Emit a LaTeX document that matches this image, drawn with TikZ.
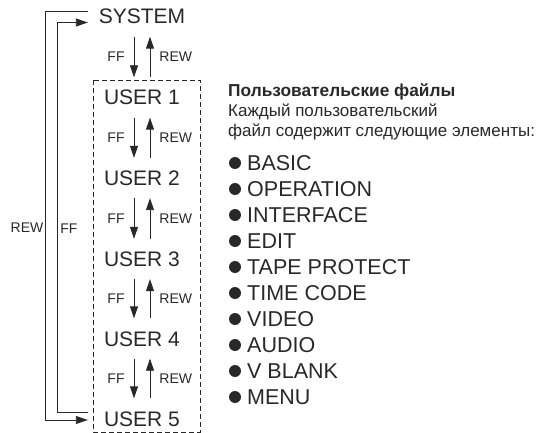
\documentclass[tikz,border=0pt]{standalone}
\usepackage{fontspec}
\setmainfont{Liberation Sans}
\usetikzlibrary{arrows.meta,positioning}
\definecolor{inkgray}{RGB}{40,40,40}

\begin{document}
\begin{tikzpicture}[
x=1pt,y=-1pt,
item/.style={
font=\fontsize{21}{21}\selectfont,
color=inkgray,
text height=15pt,
text depth=0pt,
minimum width=108pt,
inner xsep=0pt,
inner ysep=12.5pt
},
lbl/.style={
font=\fontsize{14}{14}\selectfont,
color=inkgray,
inner sep=2pt
},
edge/.style={
-{Triangle[length=12pt,width=8pt]},
line width=0.9pt,
color=inkgray
},
ubox/.style={
dash pattern=on 5pt off 3pt,
line width=0.8pt,
color=inkgray
},
head/.style={
font=\fontsize{17.3}{17.3}\selectfont\bfseries,
color=inkgray,
anchor=base west,
inner sep=0pt
},
note/.style={
font=\fontsize{17}{17}\selectfont,
color=inkgray,
anchor=base west,
inner sep=0pt
},
entry/.style={
font=\fontsize{21.5}{21.5}\selectfont,
color=inkgray,
anchor=west,
text height=15pt,
text depth=0pt,
inner sep=0pt
},
dot/.style={
circle,
fill=inkgray,
minimum size=12pt,
inner sep=0pt
}
]
\useasboundingbox (0,0) rectangle (544,433);

% user files frame
\draw[ubox] (93,80) rectangle (200,432);

\node[item] (sys) at (142,16.5) {SYSTEM};
\foreach \i/\yy in {1/97.5,2/178,3/259,4/338.5,5/418.5}
\node[item] (u\i) at (142,\yy) {USER \i};

% FF down, REW up between neighbours
\draw[edge]
([xshift=-8pt]sys.south) -- node[lbl,left=7pt]{FF} ([xshift=-8pt]u1.north);
\draw[edge]
([xshift=8pt]u1.north) -- node[lbl,right=7pt]{REW} ([xshift=8pt]sys.south);
\foreach \a/\b in {1/2,2/3,3/4,4/5} {
\draw[edge]
([xshift=-8pt]u\a.south) -- node[lbl,left=7pt]{FF} ([xshift=-8pt]u\b.north);
\draw[edge]
([xshift=8pt]u\b.north) -- node[lbl,right=7pt]{REW} ([xshift=8pt]u\a.south);
}

% wrap-around between SYSTEM and USER 5
\draw[edge]
([yshift=5pt]sys.west) -- ++(-42,0)
-- node[lbl,pos=0.53,left]{REW} ([xshift=-42pt,yshift=-1.5pt]u5.west)
-- ([yshift=-1.5pt]u5.west);
\draw[edge]
([yshift=6.5pt]u5.west) -- ++(-30,0)
-- node[lbl,pos=0.47,right]{FF} ([xshift=-30pt,yshift=-6pt]sys.west)
-- ([yshift=-6pt]sys.west);

\node[head] (title) at (228,97) {Пользовательские файлы};
\node[note] (note1) at (228,117) {Каждый пользовательский};
\node[note] (note2) at (228,137) {файл содержит следующие элементы:};

\foreach \name [count=\i] in {BASIC,OPERATION,INTERFACE,EDIT,TAPE PROTECT,TIME CODE,VIDEO,AUDIO,V BLANK,MENU} {
\node[dot] (d\i) at (235,{137+26*\i}) {};
\node[entry] (e\i) at (247,{137+26*\i}) {\name};
}

\end{tikzpicture}
\end{document}
